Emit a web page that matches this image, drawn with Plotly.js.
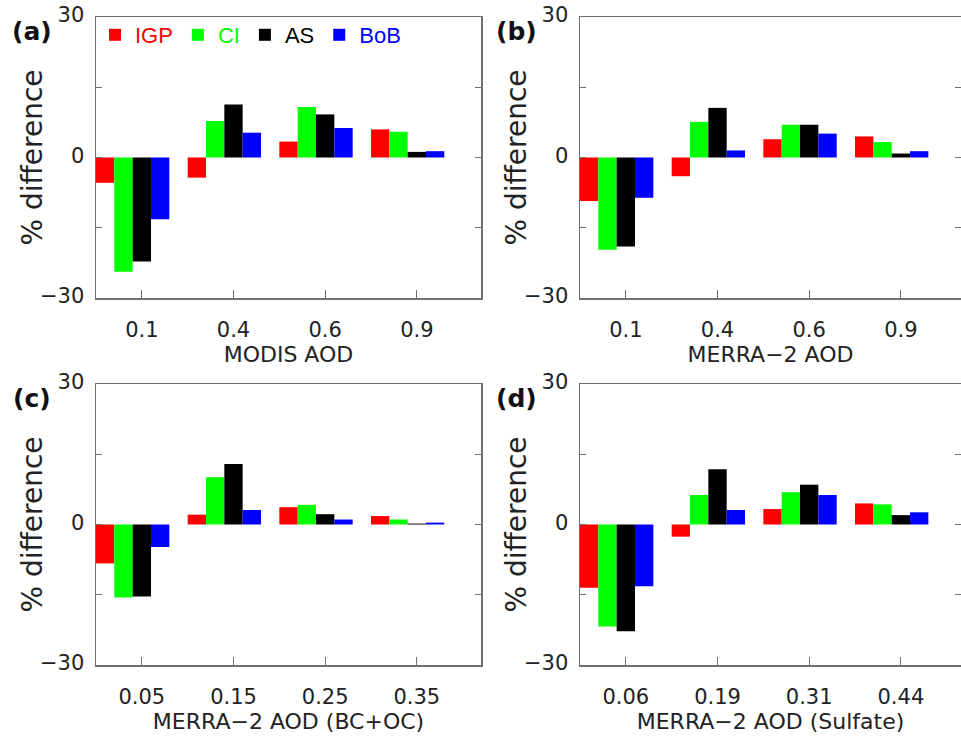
<!DOCTYPE html>
<html>
<head>
<meta charset="utf-8">
<script src="https://cdn.plot.ly/plotly-3.0.1.min.js"></script>
<style>html,body{margin:0;padding:0;background:#fff;}#chart{width:961px;height:737px;}</style>
</head>
<body>
<div id="chart"></div>
<script>
// ---- data ----
const regions = ['IGP', 'CI', 'AS', 'BoB'];
const catsModis = ['0.1', '0.4', '0.6', '0.9'];
const catsMerra = ['0.1', '0.4', '0.6', '0.9'];
const catsBcoc = ['0.05', '0.15', '0.25', '0.35'];
const catsSulf = ['0.06', '0.19', '0.31', '0.44'];

const modisIGP = [-5.4, -4.3, 3.4, 6.0];
const modisCI  = [-24.4, 7.8, 10.8, 5.5];
const modisAS  = [-22.2, 11.3, 9.2, 1.2];
const modisBoB = [-13.2, 5.3, 6.3, 1.35];

const merraIGP = [-9.3, -4.0, 3.9, 4.5];
const merraCI  = [-19.7, 7.6, 7.0, 3.3];
const merraAS  = [-19.0, 10.6, 7.0, 0.85];
const merraBoB = [-8.6, 1.5, 5.1, 1.35];

const bcocIGP = [-8.3, 2.1, 3.7, 1.8];
const bcocCI  = [-15.6, 10.1, 4.2, 1.07];
const bcocAS  = [-15.4, 12.9, 2.2, 0.2];
const bcocBoB = [-4.8, 3.1, 1.07, 0.4];

const sulfIGP = [-13.5, -2.6, 3.3, 4.5];
const sulfCI  = [-21.8, 6.3, 6.9, 4.3];
const sulfAS  = [-22.8, 11.8, 8.5, 2.0];
const sulfBoB = [-13.2, 3.1, 6.3, 2.6];

const xTitles = ['MODIS AOD', 'MERRA\u22122 AOD', 'MERRA\u22122 AOD (BC+OC)', 'MERRA\u22122 AOD (Sulfate)'];
const yTitle = '% difference';
const panelLabels = ['(a)', '(b)', '(c)', '(d)'];
const yTickVals = [-30, -15, 0, 15, 30];
const yTickText = ['\u221230', '', '0', '', '30'];

// ---- styling ----
const colors = ['#ff0000', '#00ff00', '#000000', '#0000ff'];
const W = 961, H = 737;
const panels = [
  {cats: catsModis, series: [modisIGP, modisCI, modisAS, modisBoB], l: 96, r: 481, t: 17, b: 298, xr: [-0.5, 3.7]},
  {cats: catsMerra, series: [merraIGP, merraCI, merraAS, merraBoB], l: 580, r: 961, t: 17, b: 298, xr: [-0.5, 3.656]},
  {cats: catsBcoc, series: [bcocIGP, bcocCI, bcocAS, bcocBoB], l: 96, r: 481, t: 384, b: 665, xr: [-0.5, 3.7]},
  {cats: catsSulf, series: [sulfIGP, sulfCI, sulfAS, sulfBoB], l: 580, r: 961, t: 384, b: 665, xr: [-0.5, 3.656]}
];

const FONT = 'DejaVu Sans, sans-serif';
const frameColor = '#707070';
const data = [];
const layout = {
  width: W, height: H,
  margin: {l: 0, r: 0, t: 0, b: 0},
  paper_bgcolor: '#ffffff', plot_bgcolor: '#ffffff',
  barmode: 'overlay',
  showlegend: true,
  legend: {
    orientation: 'h', x: 95 / W, y: 1 - 14 / H, xanchor: 'left', yanchor: 'top',
    bgcolor: 'rgba(0,0,0,0)', font: {family: 'Liberation Sans, Arial, sans-serif', size: 22, color: '#000'},
    itemclick: false, tracegroupgap: 0
  },
  annotations: [],
  font: {family: FONT, color: '#222'}
};

panels.forEach((p, i) => {
  const n = i === 0 ? '' : String(i + 1);
  const xa = 'x' + n, ya = 'y' + n;
  p.series.forEach((vals, k) => {
    data.push({
      type: 'bar', x: p.cats, y: vals,
      xaxis: xa, yaxis: ya,
      width: 0.2, offset: -0.5 + 0.2 * k,
      marker: {color: colors[k], line: {width: 0}},
      name: '<span style="color:' + colors[k] + '">' + regions[k] + '</span>',
      showlegend: i === 0,
      hoverinfo: 'x+y'
    });
  });
  layout['xaxis' + n] = {
    domain: [p.l / W, p.r / W], anchor: ya, type: 'category',
    range: p.xr, showgrid: false, zeroline: false,
    showline: true, linecolor: frameColor, linewidth: 1.5, mirror: true,
    ticks: 'inside', ticklen: 8, tickcolor: frameColor, tickwidth: 1.2,
    tickfont: {family: FONT, size: 21, color: '#222'}, ticklabelstandoff: 12,
    title: {text: xTitles[i], font: {family: FONT, size: 22, color: '#222'}, standoff: 4}
  };
  layout['yaxis' + n] = {
    domain: [1 - p.b / H, 1 - p.t / H], anchor: xa,
    range: [-30, 30], showgrid: false, zeroline: false,
    showline: true, linecolor: frameColor, linewidth: 1.5, mirror: 'ticks',
    ticks: 'inside', ticklen: 6, tickcolor: frameColor, tickwidth: 1.2,
    tickvals: yTickVals, ticktext: yTickText, ticklabelshift: -2,
    tickfont: {family: FONT, size: 21, color: '#222'}, ticklabelstandoff: 6
  };
  layout.annotations.push({
    text: panelLabels[i], xref: 'paper', yref: 'paper',
    x: (p.l - 64) / W, y: 1 - (p.t + 14) / H, xanchor: 'center', yanchor: 'middle',
    showarrow: false, font: {family: FONT, size: 25, color: '#111', weight: 'bold'}
  });
  layout.annotations.push({
    text: yTitle, xref: 'paper', yref: 'paper', textangle: -90,
    x: (p.l - 64) / W, y: 1 - ((p.t + p.b) / 2) / H, xanchor: 'center', yanchor: 'middle',
    showarrow: false, font: {family: FONT, size: 28, color: '#222'}
  });
});

Plotly.newPlot('chart', data, layout, {staticPlot: true});
</script>
</body>
</html>
